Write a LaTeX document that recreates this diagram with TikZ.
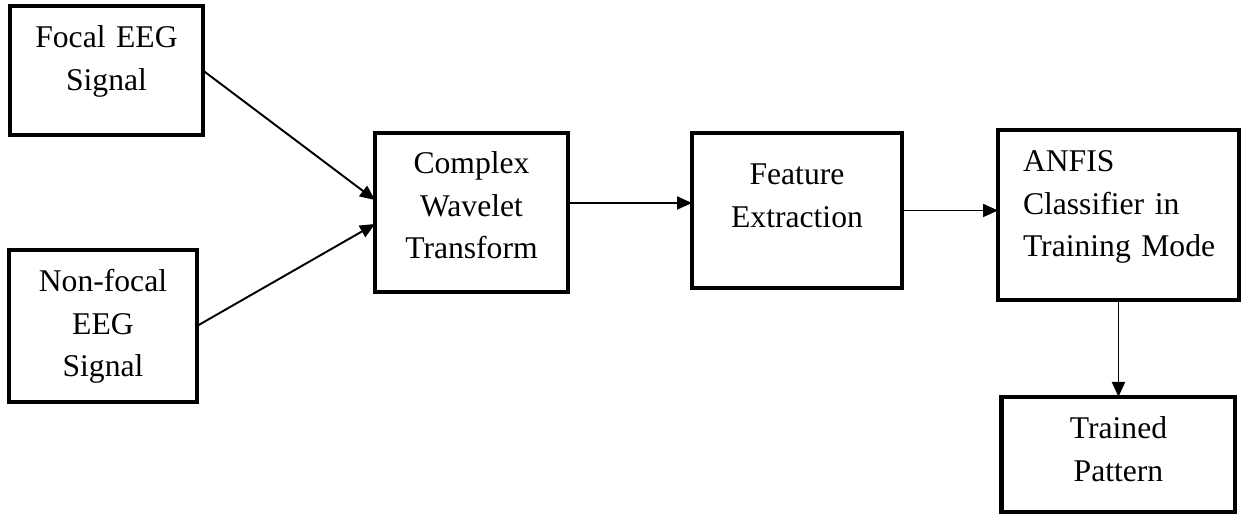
\documentclass[tikz,border=0pt]{standalone}
\usepackage{fontspec}
\setmainfont{Liberation Serif}
\usetikzlibrary{positioning,arrows.meta}

\begin{document}
\begin{tikzpicture}[
  x=0.02cm, y=-0.02cm,
  blk/.style={draw,line width=2.3pt,inner ysep=0pt,inner xsep=1mm,outer sep=0pt,align=center,
    anchor=north west,font=\fontsize{18}{24}\selectfont},
  arr/.style={-{Triangle[length=3mm,width=2.6mm]},line width=1.1pt}
]
\useasboundingbox (0,0) rectangle (1241,514);
\node[blk,text width=3.66cm,text height=8.4mm,text depth=17.4mm] (focal) at (10,6) {Focal EEG\\Signal};
\node[blk,text width=3.56cm,text height=8.4mm,text depth=22mm] (nonfocal) at (9,250) {Non-focal\\EEG\\Signal};
\node[blk,text width=3.66cm,text height=8.2mm,text depth=23.6mm] (cwt) at (375,133) {Complex\\Wavelet\\Transform};
\node[blk,text width=4cm,text height=10.4mm,text depth=20.6mm] (feat) at (692,133) {Feature\\Extraction};
\node[blk,align=left,inner xsep=5mm,text width=3.82cm,text height=8.4mm,text depth=25.6mm] (anfis) at (998,130) {ANFIS\\Classifier in\\Training~Mode};
\node[blk,anchor=north,text width=4.48cm,text height=8.4mm,text depth=14.6mm,below=1.94cm of anfis] (trained) {Trained\\Pattern};

\draw[arr] (focal.east) -- ([yshift=2.5mm]cwt.west);
\draw[arr] (nonfocal.east) -- ([yshift=-2.3mm]cwt.west);
\draw[arr] ([yshift=1.9mm]cwt.east) -- ([yshift=1.9mm]cwt.east -| feat.west);
\draw[arr] (feat.east) -- (feat.east -| anfis.west);
\draw[arr] (anfis.south) -- (trained.north);
\end{tikzpicture}
\end{document}
